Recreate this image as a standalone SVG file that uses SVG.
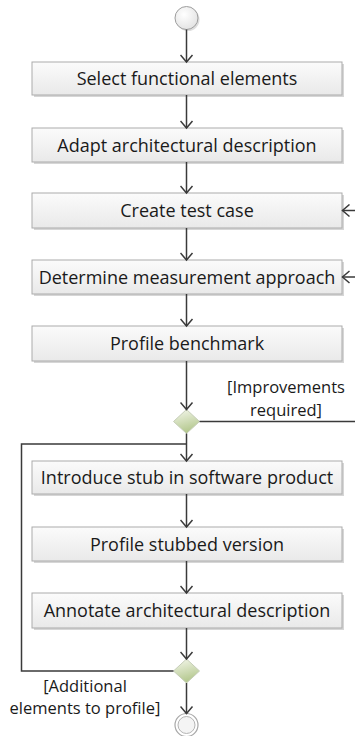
<svg xmlns="http://www.w3.org/2000/svg" width="355" height="736" viewBox="0 0 355 736">
  <defs>
    <linearGradient id="boxFill" x1="0" y1="0" x2="0" y2="1">
      <stop offset="0" stop-color="#fbfbfb"/>
      <stop offset="1" stop-color="#e9e9e9"/>
    </linearGradient>
    <linearGradient id="decFill" x1="0" y1="0" x2="0.3" y2="1">
      <stop offset="0" stop-color="#f6f8ee"/>
      <stop offset="1" stop-color="#b4c88e"/>
    </linearGradient>
    <radialGradient id="startFill" cx="0.4" cy="0.35" r="0.7">
      <stop offset="0" stop-color="#ffffff"/>
      <stop offset="1" stop-color="#e2e2e2"/>
    </radialGradient>
    <marker id="arrow" viewBox="0 0 14 14" refX="12" refY="7" markerWidth="14" markerHeight="14" markerUnits="userSpaceOnUse" orient="auto">
      <path d="M5 1 L12 7 L5 13" fill="none" stroke="#3a3a3a" stroke-width="1.5"/>
    </marker>
  </defs>
  <style>
    .box { fill: url(#boxFill); stroke: #ababab; stroke-width: 1; }
    .shadow { fill: #d6d6d6; }
    .label { font-family: "Open Sans", "Noto Sans", sans-serif; font-size: 18px; fill: #1a1a1a; text-anchor: middle; }
    .guard { font-family: "Open Sans", "Noto Sans", sans-serif; font-size: 16.5px; fill: #1a1a1a; text-anchor: middle; }
    .flow { fill: none; stroke: #3a3a3a; stroke-width: 1.5; }
    .decision { fill: url(#decFill); stroke: #c6ceb8; stroke-width: 1; }
  </style>

  <rect width="355" height="736" fill="#ffffff"/>

  <!-- initial node -->
  <g id="start">
    <circle cx="188" cy="19.5" r="11.5" fill="#dedede"/>
    <circle cx="186.5" cy="18" r="11.5" fill="url(#startFill)" stroke="#9e9e9e" stroke-width="1"/>
  </g>

  <!-- actions -->
  <g id="select-elements">
    <rect class="shadow" x="34" y="64" width="310" height="33"/>
    <rect class="box" x="32" y="62" width="310" height="33"/>
    <text class="label" x="187" y="85">Select functional elements</text>
  </g>
  <g id="adapt-description">
    <rect class="shadow" x="34" y="130" width="310" height="34"/>
    <rect class="box" x="32" y="128" width="310" height="34"/>
    <text class="label" x="187" y="151.5">Adapt architectural description</text>
  </g>
  <g id="create-test-case">
    <rect class="shadow" x="34" y="195" width="310" height="35"/>
    <rect class="box" x="32" y="193" width="310" height="35"/>
    <text class="label" x="187" y="217">Create test case</text>
  </g>
  <g id="determine-approach">
    <rect class="shadow" x="34" y="262" width="310" height="34"/>
    <rect class="box" x="32" y="260" width="310" height="34"/>
    <text class="label" x="187" y="283.5">Determine measurement approach</text>
  </g>
  <g id="profile-benchmark">
    <rect class="shadow" x="34" y="328" width="310" height="35"/>
    <rect class="box" x="32" y="326" width="310" height="35"/>
    <text class="label" x="187" y="349.5">Profile benchmark</text>
  </g>

  <!-- improvement decision -->
  <g id="decision-improve">
    <polygon class="decision" points="186.5,409.5 199.5,421.5 186.5,433.5 173.5,421.5"/>
  </g>

  <g id="introduce-stub">
    <rect class="shadow" x="34" y="463" width="310" height="33"/>
    <rect class="box" x="32" y="461" width="310" height="33"/>
    <text class="label" x="187" y="484">Introduce stub in software product</text>
  </g>
  <g id="profile-stubbed">
    <rect class="shadow" x="34" y="529" width="310" height="34"/>
    <rect class="box" x="32" y="527" width="310" height="34"/>
    <text class="label" x="187" y="550.5">Profile stubbed version</text>
  </g>
  <g id="annotate-description">
    <rect class="shadow" x="34" y="595" width="310" height="35"/>
    <rect class="box" x="32" y="593" width="310" height="35"/>
    <text class="label" x="187" y="616.5">Annotate architectural description</text>
  </g>

  <!-- loop decision -->
  <g id="decision-more">
    <polygon class="decision" points="186.5,659 199.5,671 186.5,683 173.5,671"/>
  </g>

  <!-- final node -->
  <g id="end">
    <circle cx="186.5" cy="725" r="11.5" fill="#ffffff" stroke="#a8a8a8" stroke-width="1.2"/>
    <circle cx="186.5" cy="725" r="8.5" fill="#f4f4f4" stroke="#b4b4b4" stroke-width="1"/>
  </g>

  <!-- connectors -->
  <g id="connectors">
    <path class="flow" d="M186.5 29.5 V62" marker-end="url(#arrow)"/>
    <path class="flow" d="M186.5 95 V128" marker-end="url(#arrow)"/>
    <path class="flow" d="M186.5 162 V193" marker-end="url(#arrow)"/>
    <path class="flow" d="M186.5 228 V260" marker-end="url(#arrow)"/>
    <path class="flow" d="M186.5 294 V326" marker-end="url(#arrow)"/>
    <path class="flow" d="M186.5 361 V409.5" marker-end="url(#arrow)"/>
    <path class="flow" d="M199.5 421.5 H355"/>
    <path class="flow" d="M355 210.5 H342.5" marker-end="url(#arrow)"/>
    <path class="flow" d="M355 277 H342.5" marker-end="url(#arrow)"/>
    <path class="flow" d="M186.5 433.5 V461" marker-end="url(#arrow)"/>
    <path class="flow" d="M173.5 671 H21.5 V444 H186.5"/>
    <path class="flow" d="M186.5 494 V527" marker-end="url(#arrow)"/>
    <path class="flow" d="M186.5 561 V593" marker-end="url(#arrow)"/>
    <path class="flow" d="M186.5 628 V659" marker-end="url(#arrow)"/>
    <path class="flow" d="M186.5 683 V713.5" marker-end="url(#arrow)"/>
  </g>

  <!-- guards -->
  <g id="guards">
    <text class="guard"><tspan x="286" y="393">[Improvements</tspan><tspan x="286" y="415.5">required]</tspan></text>
    <text class="guard"><tspan x="85" y="691.5">[Additional</tspan><tspan x="85" y="714">elements to profile]</tspan></text>
  </g>
</svg>
